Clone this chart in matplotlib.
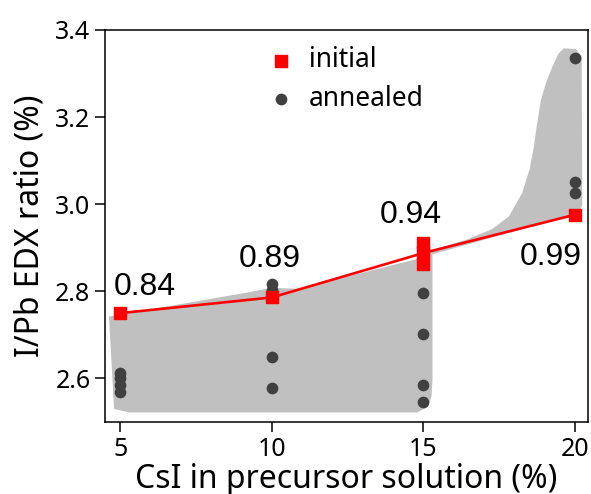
import numpy as np
import matplotlib
matplotlib.use("Agg")
import matplotlib.pyplot as plt

plt.rcParams['font.family'] = ['Noto Sans', 'DejaVu Sans']

# initial composition (red squares)
init_x = [5, 10, 15, 15, 15, 20]
init_y = [2.750, 2.786, 2.911, 2.890, 2.863, 2.976]

# annealed composition (dark dots)
ann_x = [5, 5, 5, 5, 10, 10, 10, 10, 15, 15, 15, 15, 20, 20, 20]
ann_y = [2.612, 2.600, 2.586, 2.569,
         2.817, 2.804, 2.649, 2.577,
         2.796, 2.702, 2.586, 2.546,
         3.336, 3.052, 3.025]

# labels above each group
lab_x = [5.82, 9.93, 14.59, 19.19]
lab_y = [2.81, 2.874, 2.975, 2.878]
lab_txt = ["0.84", "0.89", "0.94", "0.99"]

# grey envelope outline (data coords)
env_x = [4.63, 9.17, 10.0, 10.9, 15.0, 15.2, 16.4, 17.27, 17.82, 18.26, 18.5,
         18.64, 18.74, 18.88, 19.05, 19.25, 19.45, 19.63, 20.03, 20.22, 20.24, 20.15,
         15.3, 15.3, 15.27, 15.15, 14.8, 5.3, 4.8]
env_y = [2.742, 2.797, 2.808, 2.806, 2.878, 2.893, 2.918, 2.943, 2.972, 3.026, 3.08,
         3.13, 3.18, 3.24, 3.28, 3.315, 3.345, 3.358, 3.356, 3.34, 3.0, 2.98,
         2.885, 2.60, 2.56, 2.535, 2.522, 2.522, 2.53]

fig = plt.figure(figsize=(5.91, 4.94), dpi=100)
ax = fig.add_axes([0.1777, 0.1457, 0.8173, 0.7936])

ax.fill(env_x, env_y, color='#c0c0c0', lw=0, zorder=1)
ax.scatter(ann_x, ann_y, s=55, color='#404040', zorder=3, label='annealed')

# line through mean initial value at each concentration
xs = np.unique(init_x)
means = [np.mean([y for x, y in zip(init_x, init_y) if x == v]) for v in xs]
ax.plot(xs, means, color='red', lw=1.9, zorder=4)
ax.scatter(init_x, init_y, marker='s', s=70, color='red', zorder=5, label='initial')

for x, y, t in zip(lab_x, lab_y, lab_txt):
    ax.text(x, y, t, fontsize=23, family='Liberation Sans', ha='center', va='center')

ax.set_xlim(4.5, 20.43)
ax.set_ylim(2.5, 3.4)
ax.set_xticks([5, 10, 15, 20])
ax.set_yticks([2.6, 2.8, 3.0, 3.2, 3.4])
ax.tick_params(labelsize=18, width=1.1, length=7)
for s in ax.spines.values():
    s.set_linewidth(1.1)

ax.set_xlabel("CsI in precursor solution (%)", fontsize=23, labelpad=1)
ax.set_ylabel("I/Pb EDX ratio (%)", fontsize=23, labelpad=6)

h, l = ax.get_legend_handles_labels()
ax.legend(h[::-1], l[::-1], loc='upper left', bbox_to_anchor=(0.337, 0.958),
          frameon=False, fontsize=19, handlelength=1.0, handletextpad=0.55,
          borderpad=0, borderaxespad=0, labelspacing=0.4)

fig.savefig("out.png", dpi=100)
